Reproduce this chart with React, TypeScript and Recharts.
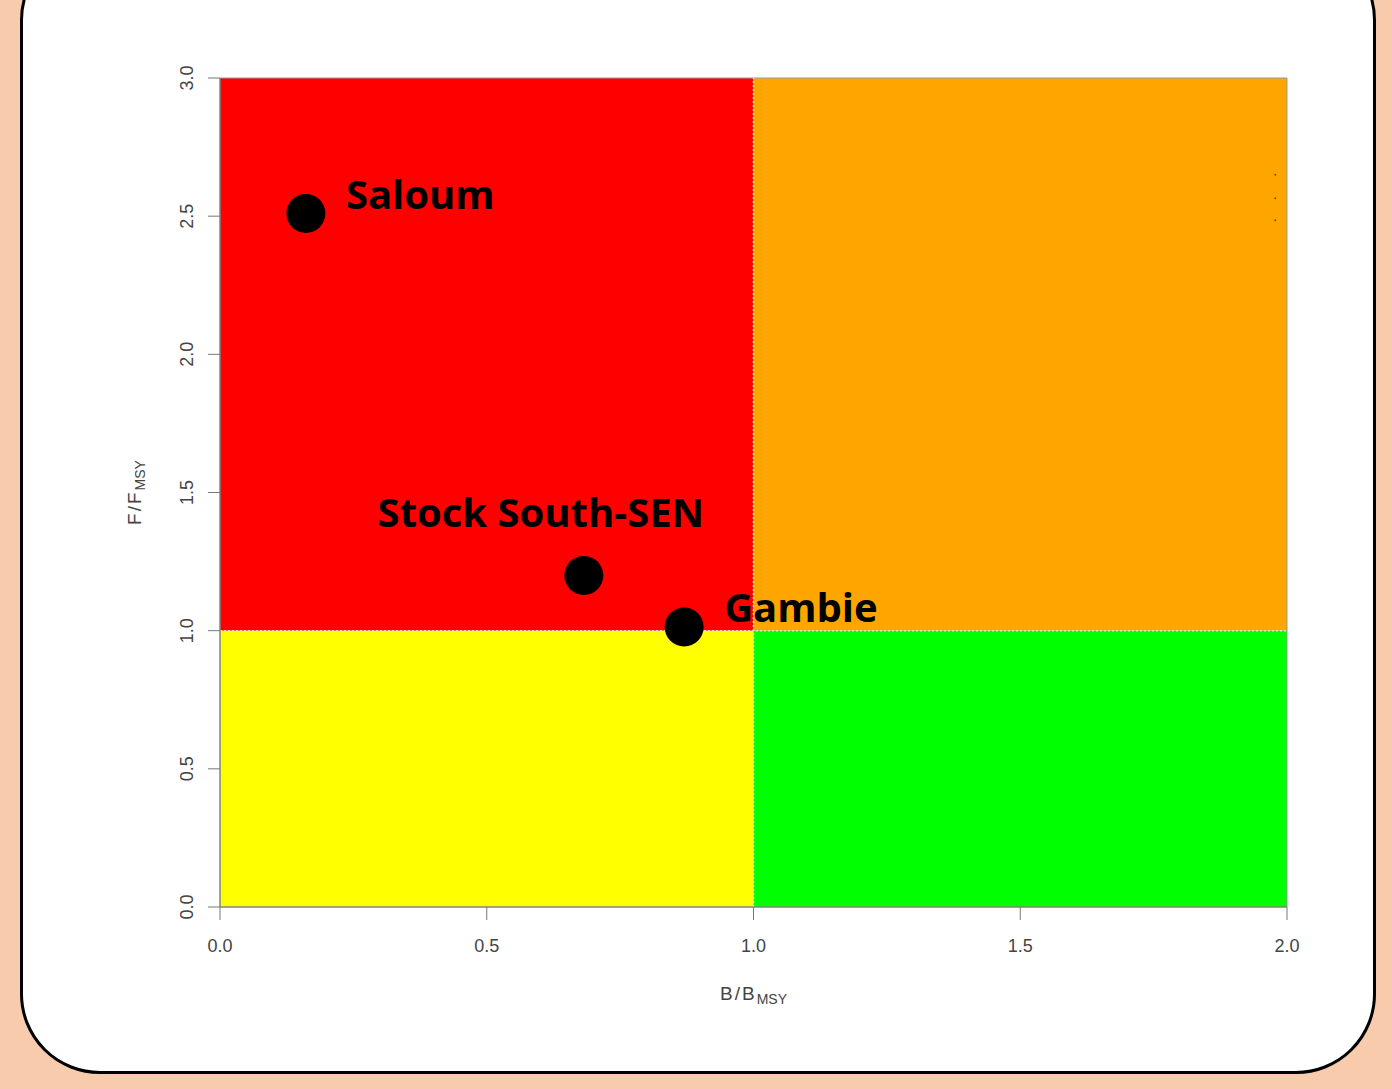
import React from "react";
import {
  ScatterChart,
  Scatter,
  XAxis,
  YAxis,
  ReferenceArea,
  ReferenceLine,
  LabelList,
} from "recharts";

const stockNames = ["Saloum", "Stock South-SEN", "Gambie"];
const bRatio = [0.161, 0.682, 0.87];
const fRatio = [2.51, 1.2, 1.013];

const xTicks = [0, 0.5, 1, 1.5, 2];
const yTicks = [0, 0.5, 1, 1.5, 2, 2.5, 3];

// tiny leftover marks near the right edge of the plot
const strayX = [1.978, 1.978, 1.978];
const strayY = [2.65, 2.565, 2.485];

const stocks = stockNames.map((name, i) => ({ name, b: bRatio[i], f: fRatio[i] }));
const strays = strayX.map((b, i) => ({ b, f: strayY[i] }));

const labelPlacement: Record<string, { dx: number; dy: number; anchor: string }> = {
  Saloum: { dx: 40, dy: -4, anchor: "start" },
  "Stock South-SEN": { dx: -43, dy: -48, anchor: "middle" },
  Gambie: { dx: 40, dy: -5, anchor: "start" },
};

const axisFont = "'Liberation Sans', Arial, sans-serif";

function XTick(props: any) {
  const { x, y, payload } = props;
  return (
    <text x={x} y={y + 30} textAnchor="middle" fontSize={18} fill="#444" fontFamily={axisFont}>
      {payload.value.toFixed(1)}
    </text>
  );
}

function YTick(props: any) {
  const { x, y, payload } = props;
  const tx = x - 13;
  return (
    <text
      x={tx}
      y={y}
      transform={`rotate(-90, ${tx}, ${y})`}
      textAnchor="middle"
      fontSize={18}
      fill="#444"
      fontFamily={axisFont}
    >
      {payload.value.toFixed(1)}
    </text>
  );
}

function StockLabel(props: any) {
  const { x, y, width, height, value } = props;
  const cx = x + width / 2;
  const cy = y + height / 2;
  const p = labelPlacement[value];
  return (
    <text
      x={cx + p.dx}
      y={cy + p.dy}
      textAnchor={p.anchor as any}
      fontSize={40}
      fontWeight="bold"
      fill="#000"
      fontFamily="'Open Sans', sans-serif"
    >
      {value}
    </text>
  );
}

function XLabel(props: any) {
  const { viewBox } = props;
  const cx = viewBox.x + viewBox.width / 2;
  return (
    <text
      x={cx}
      y={1000}
      textAnchor="middle"
      fontSize={19}
      fill="#444"
      fontFamily={axisFont}
      letterSpacing={2}
    >
      B/B
      <tspan fontSize={14} dy={4} letterSpacing={0}>MSY</tspan>
    </text>
  );
}

function YLabel(props: any) {
  const { viewBox } = props;
  const cy = viewBox.y + viewBox.height / 2;
  const tx = 141;
  return (
    <text
      x={tx}
      y={cy}
      transform={`rotate(-90, ${tx}, ${cy})`}
      textAnchor="middle"
      fontSize={19}
      fill="#444"
      fontFamily={axisFont}
      letterSpacing={2}
    >
      F/F
      <tspan fontSize={14} dy={4} letterSpacing={0}>MSY</tspan>
    </text>
  );
}

export default function App() {
  return (
    <div
      style={{
        position: "absolute",
        left: 0,
        top: 0,
        width: 1392,
        height: 1089,
        background: "#F8CBAD",
        overflow: "hidden",
      }}
    >
      <div
        style={{
          position: "absolute",
          left: 20,
          top: -60,
          width: 1350,
          height: 1128,
          background: "#fff",
          border: "3px solid #000",
          borderRadius: 80,
        }}
      />
      <div style={{ position: "absolute", left: 0, top: 0 }}>
        <ScatterChart
          width={1392}
          height={1089}
          margin={{ top: 78, right: 105, bottom: 122, left: 160 }}
        >
          <XAxis
            type="number"
            dataKey="b"
            domain={[0, 2]}
            ticks={xTicks}
            tick={<XTick />}
            tickSize={13}
            stroke="#777"
            height={60}
            allowDataOverflow
            label={<XLabel />}
          />
          <YAxis
            type="number"
            dataKey="f"
            domain={[0, 3]}
            ticks={yTicks}
            tick={<YTick />}
            tickSize={12}
            stroke="#777"
            width={60}
            allowDataOverflow
            label={<YLabel />}
          />
          <ReferenceArea x1={0} x2={1} y1={1} y2={3} fill="#FF0000" fillOpacity={1} stroke="none" />
          <ReferenceArea x1={1} x2={2} y1={1} y2={3} fill="#FFA500" fillOpacity={1} stroke="none" />
          <ReferenceArea x1={0} x2={1} y1={0} y2={1} fill="#FFFF00" fillOpacity={1} stroke="none" />
          <ReferenceArea x1={1} x2={2} y1={0} y2={1} fill="#00FF00" fillOpacity={1} stroke="none" />
          <ReferenceArea x1={0} x2={2} y1={0} y2={3} fill="none" stroke="#999" strokeWidth={1} />
          <ReferenceLine x={1} stroke="#ddd" strokeDasharray="2 2" strokeWidth={1.5} />
          <ReferenceLine y={1} stroke="#ddd" strokeDasharray="2 2" strokeWidth={1.5} />
          <Scatter
            data={strays}
            fill="#7a4a00"
            isAnimationActive={false}
            shape={(p: any) => <circle cx={p.cx} cy={p.cy} r={1} fill="#7a4a00" />}
          />
          <Scatter
            data={stocks}
            fill="#000"
            isAnimationActive={false}
            shape={(p: any) => <circle cx={p.cx} cy={p.cy} r={19.5} fill="#000" />}
          >
            <LabelList dataKey="name" content={<StockLabel />} />
          </Scatter>
        </ScatterChart>
      </div>
    </div>
  );
}
